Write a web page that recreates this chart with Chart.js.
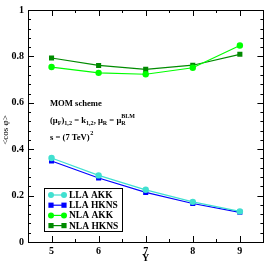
<!DOCTYPE html>
<html>
<head>
<meta charset="utf-8">
<script src="https://cdn.jsdelivr.net/npm/chart.js@4"></script>
<style>
  html, body { margin: 0; padding: 0; background: #fff; }
  #wrap { width: 267px; height: 263px; }
</style>
</head>
<body>
<div id="wrap"><canvas id="myChart" width="267" height="263"></canvas></div>
<script>
const yRap = [5, 6, 7, 8, 9]
const xTicks = [5, 6, 7, 8, 9]
const llaAkk = [0.362, 0.287, 0.225, 0.173, 0.132]
const llaHkns = [0.349, 0.276, 0.214, 0.166, 0.128]
const nlaAkk = [0.754, 0.729, 0.723, 0.751, 0.847]
const nlaHkns = [0.793, 0.761, 0.744, 0.762, 0.809]
const nombres = ["LLA AKK", "LLA HKNS", "NLA AKK", "NLA HKNS"]
const colores = ["#40e0d0", "#0000ff", "#00ff00", "#008b00"]

const serif = "'Liberation Serif', 'DejaVu Serif', serif"

function pares(vals) {
    return yRap.map((x, i) => ({ x: x, y: vals[i] }))
}

function serie(i, vals, forma) {
    return {
        label: nombres[i],
        data: pares(vals),
        borderColor: colores[i],
        backgroundColor: colores[i],
        borderWidth: 1.2,
        pointStyle: forma,
        pointRadius: forma === "rect" ? 3.6 : 3.2,
        pointBorderWidth: 0,
        pointHoverRadius: 3.5,
    }
}

// ticks hacia adentro, caja, textos y leyenda
const extras = {
    id: "extras",
    afterDraw(chart) {
        const ctx = chart.ctx
        const a = chart.chartArea
        const sx = chart.scales.x
        const sy = chart.scales.y
        ctx.save()
        ctx.strokeStyle = "#000"
        ctx.lineWidth = 1
        ctx.beginPath()
        for (let v = 4.5; v <= 9.5001; v += 0.5) {
            const px = Math.round(sx.getPixelForValue(v)) + 0.5
            const len = Number.isInteger(Math.round(v * 100) / 100) ? 6 : 3
            ctx.moveTo(px, a.bottom); ctx.lineTo(px, a.bottom - len)
            ctx.moveTo(px, a.top); ctx.lineTo(px, a.top + len)
        }
        for (let k = 0; k <= 25; k++) {
            const v = k * 0.04
            const py = Math.round(sy.getPixelForValue(v)) + 0.5
            const len = k % 5 === 0 ? 6 : 3
            ctx.moveTo(a.left, py); ctx.lineTo(a.left + len, py)
            ctx.moveTo(a.right, py); ctx.lineTo(a.right - len, py)
        }
        ctx.stroke()
        ctx.strokeRect(Math.round(a.left) + 0.5, Math.round(a.top) + 0.5,
            Math.round(a.right - a.left), Math.round(a.bottom - a.top))

        // titulos de ejes
        ctx.fillStyle = "#000"
        ctx.font = "bold 10px " + serif
        ctx.textAlign = "center"
        ctx.textBaseline = "middle"
        ctx.fillText("Y", (a.left + a.right) / 2, 258)
        ctx.save()
        ctx.translate(6, 130)
        ctx.rotate(-Math.PI / 2)
        ctx.font = "9px " + serif
        ctx.fillText("<cos \u03c6>", 0, 0)
        ctx.restore()

        // anotaciones
        ctx.textAlign = "left"
        ctx.textBaseline = "alphabetic"
        ctx.font = "bold 8.6px " + serif
        ctx.fillText("MOM scheme", 50, 106)
        let x = 50
        const y2 = 123
        function txt(s, dy, size) {
            ctx.font = "bold " + size + "px " + serif
            ctx.fillText(s, x, y2 + dy)
            x += ctx.measureText(s).width
        }
        txt("(\u03bc", 0, 8.6); txt("F", 2, 6); txt(")", 0, 8.6); txt("1,2", 2, 6.2)
        txt(" = k", 0, 8.6); txt("1,2", 2, 6.2); txt(", \u03bc", 0, 8.6); txt("R", 2, 6)
        txt(" = \u03bc", 0, 8.6)
        const xb = x
        txt("R", 2, 6)
        x = xb
        txt("BLM", -5, 6)
        x = 50
        const y3 = 140
        ctx.font = "bold 8.6px " + serif
        ctx.fillText("s = (7 TeV)", x, y3)
        x += ctx.measureText("s = (7 TeV)").width
        ctx.font = "bold 6.2px " + serif
        ctx.fillText("2", x + 0.5, y3 - 5)

        // leyenda
        const lx = 44.5, ly = 188.5, lw = 78, lh = 43
        ctx.fillStyle = "#fff"
        ctx.fillRect(lx, ly, lw, lh)
        ctx.strokeStyle = "#000"
        ctx.strokeRect(lx, ly, lw, lh)
        chart.data.datasets.forEach((ds, i) => {
            const ry = 195 + i * 10.2
            ctx.strokeStyle = ds.borderColor
            ctx.fillStyle = ds.borderColor
            ctx.lineWidth = 1.2
            ctx.beginPath()
            ctx.moveTo(51, ry); ctx.lineTo(64, ry)
            ctx.stroke()
            ;[51, 64].forEach(px => {
                ctx.beginPath()
                if (ds.pointStyle === "rect") {
                    ctx.rect(px - 2.6, ry - 2.6, 5.2, 5.2)
                } else {
                    ctx.arc(px, ry, 3, 0, Math.PI * 2)
                }
                ctx.fill()
            })
            ctx.fillStyle = "#000"
            ctx.font = "bold 9.5px " + serif
            ctx.textBaseline = "middle"
            ctx.fillText(ds.label, 69, ry + 0.5)
        })
        ctx.restore()
    }
}

const ctx = document.getElementById("myChart").getContext("2d")
window.myChart = new Chart(ctx, {
    type: "line",
    data: {
        datasets: [
            serie(0, llaAkk, "circle"),
            serie(1, llaHkns, "rect"),
            serie(2, nlaAkk, "circle"),
            serie(3, nlaHkns, "rect"),
        ]
    },
    options: {
        responsive: false,
        animation: false,
        layout: { padding: { top: 5, right: 3, left: 0, bottom: 0 } },
        plugins: { legend: { display: false }, tooltip: { enabled: false } },
        scales: {
            x: {
                type: "linear",
                min: 4.5,
                max: 9.5,
                afterBuildTicks: (s) => { s.ticks = xTicks.map(v => ({ value: v })) },
                afterFit: (s) => { s.height = 21 },
                grid: { display: false, drawTicks: false },
                border: { display: false },
                ticks: {
                    padding: 3,
                    color: "#000",
                    font: { family: serif, size: 10, weight: "bold" },
                    maxRotation: 0,
                }
            },
            y: {
                min: 0,
                max: 1,
                afterFit: (s) => { s.width = 28 },
                grid: { display: false, drawTicks: false },
                border: { display: false },
                ticks: {
                    stepSize: 0.2,
                    padding: 4,
                    color: "#000",
                    font: { family: serif, size: 10, weight: "bold" },
                    callback: (v) => v === 0 || v === 1 ? String(v) : Number(v).toFixed(1),
                }
            }
        }
    },
    plugins: [extras]
})
</script>
</body>
</html>
